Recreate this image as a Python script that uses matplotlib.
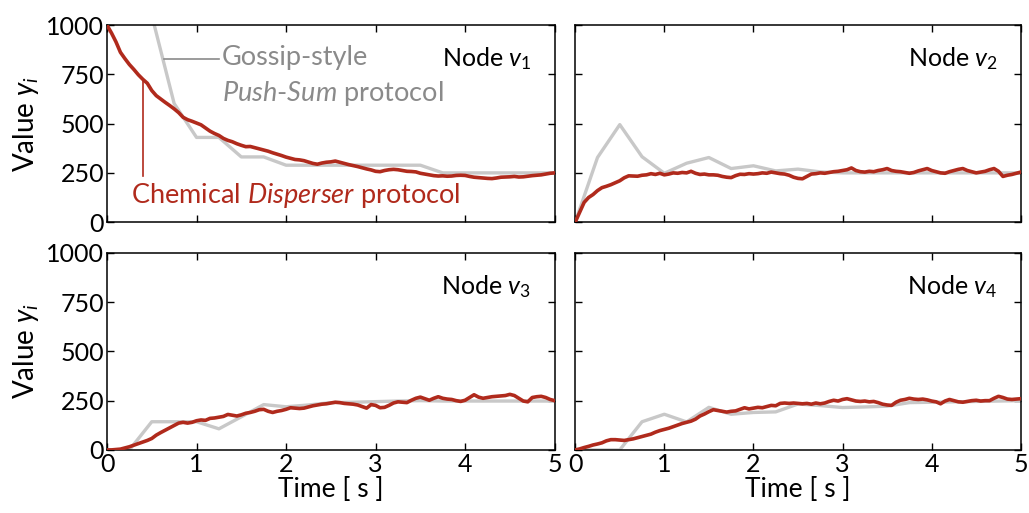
import matplotlib
matplotlib.use("Agg")
import matplotlib.pyplot as plt
import numpy as np

plt.rcParams['font.family'] = ['Lato', 'DejaVu Sans']
plt.rcParams['mathtext.fontset'] = 'custom'
plt.rcParams['mathtext.rm'] = 'Lato'
plt.rcParams['mathtext.it'] = 'Lato:italic'

RED = '#b02a1c'
GRAY = '#c8c8c8'
TXTGRAY = '#8a8a8a'

# chemical disperser protocol, sampled every 0.05 s
t_chem = np.linspace(0, 5, 101)
chem_v1 = [1000, 960, 915, 862, 830, 800, 775, 748, 725, 705,
           668, 642, 625, 608, 592, 575, 556, 532, 520, 512,
           503, 494, 478, 462, 450, 440, 425, 415, 408, 398,
           390, 383, 384, 378, 372, 366, 360, 352, 345, 338,
           330, 324, 318, 316, 312, 305, 298, 294, 300, 304,
           306, 310, 304, 298, 292, 287, 282, 276, 270, 265,
           258, 256, 262, 266, 268, 266, 262, 258, 257, 255,
           248, 244, 240, 236, 234, 235, 233, 234, 237, 238,
           237, 232, 228, 226, 224, 222, 221, 224, 228, 229,
           230, 232, 229, 230, 233, 236, 238, 240, 244, 248, 250]
chem_v2 = [0, 50, 100, 125, 140, 160, 175, 182, 190, 200,
           210, 225, 235, 234, 233, 238, 240, 246, 242, 248,
           240, 244, 250, 248, 252, 250, 258, 248, 242, 244,
           240, 240, 238, 232, 228, 226, 236, 243, 242, 246,
           244, 246, 250, 248, 254, 250, 246, 244, 238, 228,
           222, 220, 232, 244, 246, 250, 248, 252, 256, 258,
           262, 266, 275, 262, 256, 254, 258, 256, 262, 266,
           272, 262, 258, 256, 252, 248, 252, 260, 266, 272,
           262, 256, 250, 248, 256, 262, 268, 272, 262, 256,
           250, 254, 258, 266, 272, 258, 232, 238, 242, 248, 254]
chem_v3 = [0, 0, 2, 4, 10, 16, 24, 32, 40, 48,
           58, 75, 88, 100, 112, 124, 136, 140, 136, 140,
           148, 152, 150, 160, 162, 166, 170, 180, 176, 172,
           178, 186, 190, 196, 204, 206, 196, 190, 196, 200,
           206, 214, 212, 210, 212, 218, 224, 228, 232, 234,
           238, 242, 240, 236, 234, 232, 228, 220, 212, 230,
           226, 214, 216, 226, 238, 244, 242, 240, 252, 262,
           268, 260, 252, 262, 270, 262, 258, 256, 250, 246,
           252, 266, 280, 268, 262, 266, 270, 272, 274, 276,
           282, 276, 262, 248, 244, 266, 270, 272, 266, 256, 250]
chem_v4 = [0, 5, 12, 18, 25, 30, 36, 46, 52, 52,
           50, 48, 52, 56, 62, 68, 74, 80, 90, 98,
           104, 110, 118, 126, 134, 140, 146, 156, 172, 182,
           194, 204, 200, 196, 192, 196, 198, 206, 214, 208,
           212, 216, 214, 220, 226, 224, 236, 238, 236, 238,
           236, 234, 236, 232, 238, 234, 238, 246, 252, 248,
           256, 260, 254, 248, 246, 248, 244, 246, 240, 232,
           228, 226, 242, 252, 256, 262, 258, 256, 258, 254,
           248, 244, 234, 248, 256, 250, 244, 242, 246, 250,
           252, 248, 250, 250, 262, 272, 266, 258, 256, 258, 260]

# gossip-style push-sum protocol, one value per round (0.25 s)
t_goss = np.linspace(0, 5, 21)
goss_v1 = [1000, 1100, 1050, 602, 430, 430, 331, 331, 289, 289, 289,
           289, 289, 289, 289, 250, 250, 250, 250, 250, 250]
goss_v2 = [0, 328, 495, 332, 248, 299, 328, 272, 286, 260, 269,
           255, 250, 250, 250, 250, 250, 250, 250, 250, 250]
goss_v3 = [0, 0, 143, 143, 143, 107, 168, 230, 219, 228, 240,
           242, 245, 248, 250, 248, 248, 248, 248, 248, 248]
goss_v4 = [0, 0, 0, 143, 181, 142, 216, 181, 190, 193, 233,
           225, 215, 218, 222, 240, 242, 244, 246, 248, 250]

chem = [chem_v1, chem_v2, chem_v3, chem_v4]
goss = [goss_v1, goss_v2, goss_v3, goss_v4]
names = ['Node $v_1$', 'Node $v_2$', 'Node $v_3$', 'Node $v_4$']

fig = plt.figure(figsize=(10.29, 5.13), dpi=100)
pos = [[0.104, 0.567, 0.435, 0.384],
       [0.559, 0.567, 0.433, 0.384],
       [0.104, 0.123, 0.435, 0.384],
       [0.559, 0.123, 0.433, 0.384]]

for k in range(4):
    ax = fig.add_axes(pos[k])
    ax.plot(t_goss, goss[k], color=GRAY, lw=2.4, zorder=2)
    ax.plot(t_chem, chem[k], color=RED, lw=2.6, zorder=3)
    ax.set_xlim(0, 5)
    ax.set_ylim(0, 1000)
    ax.set_xticks([0, 1, 2, 3, 4, 5])
    ax.set_yticks([0, 250, 500, 750, 1000])
    ax.tick_params(direction='in', top=True, right=True, length=5, width=1,
                   labelsize=18, pad=2)
    for s in ax.spines.values():
        s.set_linewidth(1.1)
    ax.text(4.74, 830, names[k], ha='right', va='center', fontsize=18)
    if k % 2 == 0:
        ax.set_ylabel('Value $y_i$', fontsize=20, labelpad=4)
    else:
        ax.tick_params(labelleft=False)
    if k < 2:
        ax.tick_params(labelbottom=False)
    else:
        ax.set_xlabel('Time [ s ]', fontsize=19, labelpad=1)
    if k == 0:
        ax.plot([0.64, 1.25], [827, 827], color=TXTGRAY, lw=1.2, zorder=4)
        ax.text(1.28, 835, 'Gossip-style', color=TXTGRAY, fontsize=19.5,
                ha='left', va='center')
        ax.text(1.28, 655, '$Push$-$Sum$ protocol', color=TXTGRAY,
                fontsize=19.5, ha='left', va='center')
        ax.plot([0.4, 0.4], [720, 233], color=RED, lw=1.2, zorder=4)
        ax.text(0.27, 137, 'Chemical $Disperser$ protocol', color=RED,
                fontsize=19.5, ha='left', va='center')

fig.savefig('out.png', dpi=100)
